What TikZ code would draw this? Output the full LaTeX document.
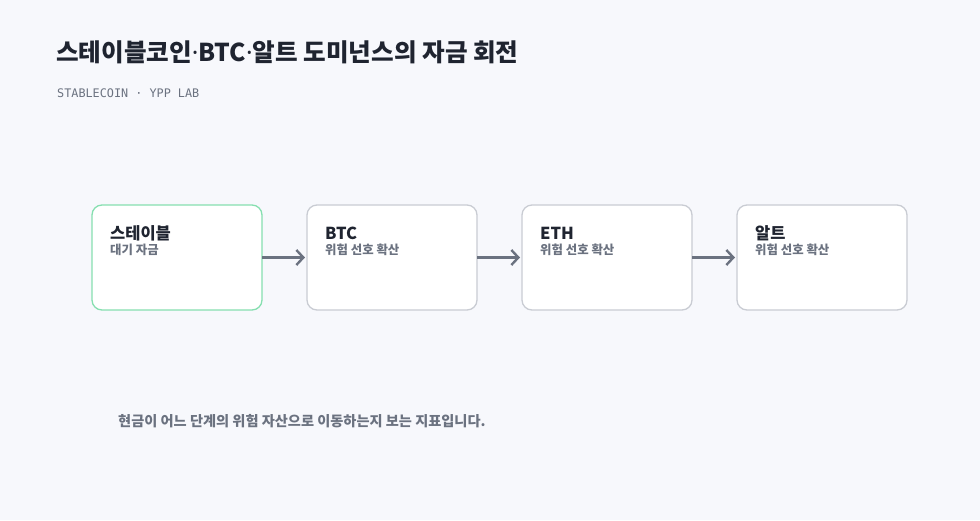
\documentclass[tikz,border=0pt]{standalone}
\usepackage{fontspec}
\usepackage{tikz}
\usetikzlibrary{arrows.meta,positioning}
\setmainfont{Noto Sans CJK KR}
\newfontfamily\krfont{Noto Sans CJK KR}
\newfontfamily\latinfont{Noto Sans}
\newfontfamily\monofont{DejaVu Sans Mono}
\newcommand{\middot}{{\latinfont\bfseries ·}}
\definecolor{bgcol}{HTML}{F7F8FC}
\definecolor{inkcol}{HTML}{1F2430}
\definecolor{mutecol}{HTML}{6B7280}
\definecolor{edgecol}{HTML}{C9CCD3}
\definecolor{greencol}{HTML}{86DFB0}
\tikzset{
  stagebox/.style={draw=edgecol, line width=1.3pt, fill=white, rounded corners=10pt,
    minimum width=170pt, minimum height=105pt, inner sep=0pt, outer sep=0pt},
  stagename/.style={anchor=base west, inner sep=0pt, text=inkcol, font=\krfont\bfseries\fontsize{16.5}{18}\selectfont},
  stagenote/.style={anchor=base west, inner sep=0pt, text=mutecol, font=\krfont\bfseries\fontsize{12.4}{14}\selectfont},
  flow/.style={draw=mutecol, line width=2.5pt, -{Straight Barb[length=7pt,width=15pt,line width=2.4pt]}}
}
\begin{document}
\begin{tikzpicture}[x=1pt,y=-1pt]
\fill[bgcol] (0,0) rectangle (980,520);
\useasboundingbox (0,0) rectangle (980,520);
% title
\node[anchor=base west, inner sep=0pt, text=inkcol, font=\krfont\bfseries\fontsize{24.6}{28}\selectfont] (title) at (56,61) {스테이블코인\middot BTC\middot 알트 도미넌스의 자금 회전};
\node[anchor=base west, inner sep=0pt, text=mutecol, font=\monofont\fontsize{11.8}{13}\selectfont] (sub) at (57,97) {STABLECOIN · YPP LAB};
% stages
\node[stagebox, draw=greencol] (stable) at (177,257.5) {};
\node[stagebox, right=45pt of stable] (btc) {};
\node[stagebox, right=45pt of btc] (eth) {};
\node[stagebox, right=45pt of eth] (alt) {};
\node[stagename] (stablename) at (110,239) {스테이블};
\node[stagenote] (stablenote) at (110,254) {대기 자금};
\node[stagename] (btcname) at (325,239) {BTC};
\node[stagenote] (btcnote) at (325,254) {위험 선호 확산};
\node[stagename] (ethname) at (540,239) {ETH};
\node[stagenote] (ethnote) at (540,254) {위험 선호 확산};
\node[stagename] (altname) at (755,239) {알트};
\node[stagenote] (altnote) at (755,254) {위험 선호 확산};
% arrows
\draw[flow] (stable.east) -- ([xshift=-2pt]btc.west);
\draw[flow] (btc.east) -- ([xshift=-2pt]eth.west);
\draw[flow] (eth.east) -- ([xshift=-2pt]alt.west);
% note
\node[anchor=base west, inner sep=0pt, text=mutecol, font=\krfont\bfseries\fontsize{14.2}{16}\selectfont] (note) at (118,426) {현금이 어느 단계의 위험 자산으로 이동하는지 보는 지표입니다.};
\end{tikzpicture}
\end{document}
